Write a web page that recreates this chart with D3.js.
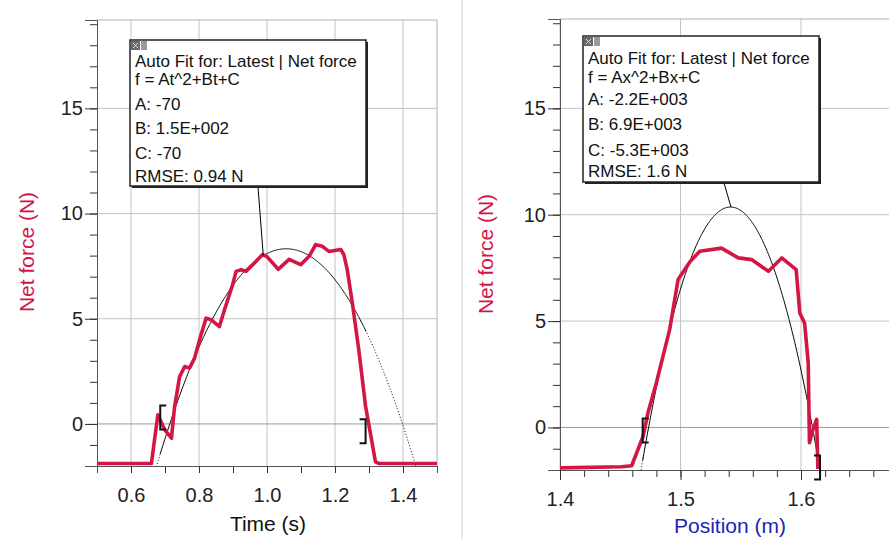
<!DOCTYPE html>
<html>
<head>
<meta charset="utf-8">
<script src="https://cdn.jsdelivr.net/npm/d3@7"></script>
<style>
  body { margin: 0; background: #fff; }
  svg { display: block; font-family: "Liberation Sans", Arial, sans-serif; }
</style>
</head>
<body>
<svg id="chart" width="889" height="539"></svg>
<script>
// data
const leftTime  = [0.50,0.66,0.679,0.70,0.719,0.728,0.743,0.758,0.772,0.787,0.806,0.821,0.836,0.86,0.875,0.899,0.909,0.924,0.938,0.963,0.987,1.0,1.033,1.065,1.099,1.124,1.143,1.163,1.182,1.217,1.226,1.236,1.251,1.27,1.29,1.304,1.319,1.329,1.50];
const leftForce = [-1.88,-1.88,0.43,-0.3,-0.68,0.8,2.25,2.73,2.65,3.13,4.24,5.03,4.95,4.63,5.43,6.62,7.25,7.33,7.25,7.65,8.05,7.95,7.35,7.82,7.57,7.97,8.52,8.44,8.2,8.29,8.05,7.33,5.75,3.52,0.83,-0.44,-1.8,-1.88,-1.88];

const rightPos   = [1.40,1.451,1.4595,1.469,1.473,1.480,1.491,1.498,1.508,1.516,1.534,1.548,1.559,1.573,1.584,1.596,1.599,1.603,1.606,1.607,1.610,1.613,1.614];
const rightForce = [-1.9,-1.85,-1.8,-0.41,0.69,2.1,4.6,6.95,7.8,8.28,8.43,7.97,7.89,7.34,7.97,7.42,5.38,4.9,3.04,-0.72,-0.09,0.38,-1.95];

// fit coefficients (unrounded, the box shows them rounded)
const leftFit  = { A: -71.1, B: 150.2, C: -71.0 };
const rightFit = { A: -2240, B: 6906, C: -5312.5 };

// fit ranges [start, end] and bracket heights
const leftRange  = [0.686, 1.290];
const leftBracketY  = [0.3, -0.35];
const rightRange = [1.4686, 1.6158];
const rightBracketY = [-0.14, -1.88];

const leftBoxLines  = ["Auto Fit for: Latest | Net force", "f = At^2+Bt+C", "A: -70", "B: 1.5E+002", "C: -70", "RMSE: 0.94 N"];
const rightBoxLines = ["Auto Fit for: Latest | Net force", "f = Ax^2+Bx+C", "A: -2.2E+003", "B: 6.9E+003", "C: -5.3E+003", "RMSE: 1.6 N"];

const yMajor = [0, 5, 10, 15];
const yMinor = d3.range(-2, 20);
const leftXMajor = [0.6, 0.8, 1.0, 1.2, 1.4];
const leftXMinor = d3.range(5, 16).map(d => d / 10);
const rightXMajor = [1.4, 1.5, 1.6];
const rightXMinor = d3.range(70, 86).map(d => d / 50);

const RED = "#d41645";
const svg = d3.select("#chart");

// separator between the two graphs
svg.append("line").attr("x1", 462).attr("x2", 462).attr("y1", 0).attr("y2", 539)
   .attr("stroke", "#d4d4d4").attr("stroke-width", 1);

function drawPanel(o) {
  const x = d3.scaleLinear().domain(o.xDomain).range([o.left, o.right]);
  const y = d3.scaleLinear().domain([-2, 19.2]).range([o.bottom, o.top]);
  const g = svg.append("g");
  const clipId = "clip" + o.id;
  g.append("clipPath").attr("id", clipId).append("rect")
    .attr("x", o.left).attr("y", o.top)
    .attr("width", o.right - o.left).attr("height", o.bottom - o.top);

  // grid
  g.selectAll(".vg").data(o.xMajor).join("line")
    .attr("x1", d => x(d)).attr("x2", d => x(d))
    .attr("y1", o.top).attr("y2", o.bottom)
    .attr("stroke", "#c4c4c4");
  g.selectAll(".hg").data(yMajor).join("line")
    .attr("x1", o.left).attr("x2", o.right)
    .attr("y1", d => y(d)).attr("y2", d => y(d))
    .attr("stroke", d => d === 0 ? "#9a9a9a" : "#c4c4c4");
  // frame top / right
  g.append("path")
    .attr("d", `M${o.left},${o.top}H${o.right}V${o.bottom}`)
    .attr("fill", "none").attr("stroke", "#b0b0b0");

  // axes
  const yMinAx = g.append("g").attr("transform", `translate(${o.left},0)`)
    .call(d3.axisLeft(y).tickValues(yMinor).tickSize(7).tickFormat(""));
  const yMajAx = g.append("g").attr("transform", `translate(${o.left},0)`)
    .call(d3.axisLeft(y).tickValues(yMajor).tickSize(12).tickPadding(2).tickFormat(d3.format("d")));
  const xMinAx = g.append("g").attr("transform", `translate(0,${o.bottom})`)
    .call(d3.axisBottom(x).tickValues(o.xMinor).tickSize(7).tickFormat(""));
  const xMajAx = g.append("g").attr("transform", `translate(0,${o.bottom})`)
    .call(d3.axisBottom(x).tickValues(o.xMajor).tickSize(o.majorTick).tickPadding(22 - o.majorTick).tickFormat(d3.format(".1f")));
  [yMinAx, yMajAx, xMinAx, xMajAx].forEach(a => {
    a.select(".domain").attr("stroke", "#555");
    a.selectAll(".tick line").attr("stroke", "#333");
    a.selectAll("text").attr("fill", "#222").style("font-size", "20px")
      .style("font-family", '"Liberation Sans", Arial, sans-serif');
  });
  xMajAx.selectAll("text").attr("dy", "0.71em");

  // axis titles
  g.append("text").attr("x", o.xTitlePos[0]).attr("y", o.xTitlePos[1])
    .attr("text-anchor", "middle").attr("fill", o.xTitleColor)
    .style("font-size", "21px").text(o.xTitle);
  g.append("text")
    .attr("transform", `translate(${o.yTitlePos[0]},${o.yTitlePos[1]}) rotate(-90)`)
    .attr("text-anchor", "middle").attr("fill", RED)
    .style("font-size", "21px").text("Net force (N)");

  const plot = g.append("g").attr("clip-path", `url(#${clipId})`);

  // fit curve: solid inside the fit range, dotted outside
  const f = t => o.fit.A * t * t + o.fit.B * t + o.fit.C;
  const line = d3.line().x(d => x(d)).y(d => y(f(d)));
  const step = (o.xDomain[1] - o.xDomain[0]) / 600;
  const outerL = d3.range(o.xDomain[0], o.range[0] + step, step);
  const inner = d3.range(o.range[0], o.range[1] + step, step);
  const outerR = d3.range(o.range[1], o.xDomain[1], step);
  [outerL, outerR].forEach(seg => plot.append("path").attr("d", line(seg))
    .attr("fill", "none").attr("stroke", "#000").attr("stroke-width", 1)
    .attr("stroke-dasharray", "1,2"));
  plot.append("path").attr("d", line(inner))
    .attr("fill", "none").attr("stroke", "#000").attr("stroke-width", 1);

  // data line
  plot.append("path")
    .datum(d3.zip(o.xs, o.ys))
    .attr("d", d3.line().x(d => x(d[0])).y(d => y(d[1])))
    .attr("fill", "none").attr("stroke", RED).attr("stroke-width", 3.6)
    .attr("stroke-linejoin", "round");

  // brackets
  o.range.forEach((r, i) => {
    const bx = x(r), by = y(o.bracketY[i]);
    const dir = i === 0 ? 1 : -1;
    g.append("path")
      .attr("d", `M${bx + 6 * dir},${by - 12}H${bx}V${by + 12}H${bx + 6 * dir}`)
      .attr("fill", "none").attr("stroke", "#111").attr("stroke-width", 2);
  });

  // annotation box + leader
  const b = o.box;
  g.append("line").attr("x1", o.leaderFrom[0]).attr("y1", o.leaderFrom[1])
    .attr("x2", x(o.leaderX)).attr("y2", y(f(o.leaderX)))
    .attr("stroke", "#000").attr("stroke-width", 1);
  g.append("rect").attr("x", b.x + 2).attr("y", b.y + 2).attr("width", b.w).attr("height", b.h)
    .attr("fill", "#222");
  g.append("rect").attr("x", b.x).attr("y", b.y).attr("width", b.w).attr("height", b.h)
    .attr("fill", "#fff").attr("stroke", "#222").attr("stroke-width", 1.5);
  g.append("rect").attr("x", b.x + 1).attr("y", b.y + 1).attr("width", 9).attr("height", 9).attr("fill", "#6a6a6a");
  g.append("path").attr("d", `M${b.x + 3},${b.y + 3}L${b.x + 8},${b.y + 8}M${b.x + 8},${b.y + 3}L${b.x + 3},${b.y + 8}`)
    .attr("stroke", "#ddd").attr("stroke-width", 1);
  g.append("rect").attr("x", b.x + 11).attr("y", b.y + 1).attr("width", 6).attr("height", 9).attr("fill", "#9a9a9a");
  g.selectAll(".boxtext").data(o.boxLines).join("text")
    .attr("x", b.x + 5).attr("y", (d, i) => b.y + b.base[i])
    .attr("fill", "#111").style("font-size", "17px").text(d => d);
}

drawPanel({
  id: "L", xDomain: [0.5, 1.5], left: 97, right: 437, top: 20, bottom: 466,
  xMajor: leftXMajor, xMinor: leftXMinor, majorTick: 7,
  xTitle: "Time (s)", xTitleColor: "#111", xTitlePos: [268, 531], yTitlePos: [34, 252],
  xs: leftTime, ys: leftForce, fit: leftFit, range: leftRange, bracketY: leftBracketY,
  box: { x: 130, y: 40, w: 236, h: 146, base: [27, 45, 70, 94, 119, 142] },
  boxLines: leftBoxLines, leaderFrom: [258, 187], leaderX: 0.989
});

drawPanel({
  id: "R", xDomain: [1.4, 1.7], left: 560, right: 921.5, top: 19, bottom: 470,
  xMajor: rightXMajor, xMinor: rightXMinor, majorTick: 10,
  xTitle: "Position (m)", xTitleColor: "#2323b8", xTitlePos: [730, 533], yTitlePos: [493, 254],
  xs: rightPos, ys: rightForce, fit: rightFit, range: rightRange, bracketY: rightBracketY,
  box: { x: 583, y: 36, w: 236, h: 146, base: [28, 47, 69, 94, 120, 141] },
  boxLines: rightBoxLines, leaderFrom: [724, 183], leaderX: 1.5419
});
</script>
</body>
</html>
